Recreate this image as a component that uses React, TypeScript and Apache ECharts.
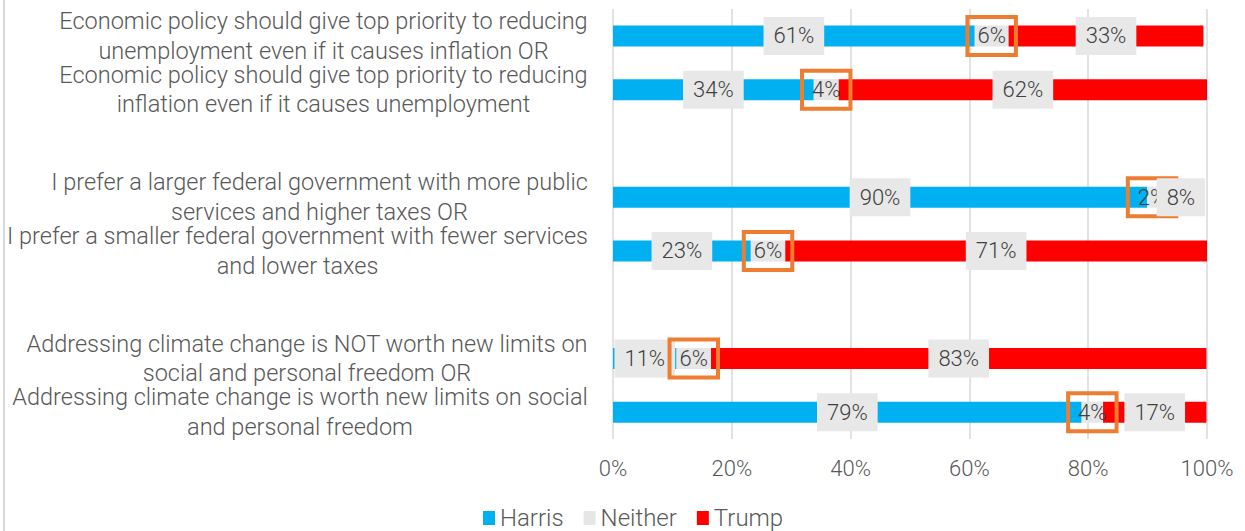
import React, { useEffect, useRef } from 'react';
import * as echarts from 'echarts';

const categories: string[] = [
  'Economic policy should give top priority to reducing\nunemployment even if it causes inflation OR',
  'Economic policy should give top priority to reducing\ninflation even if it causes unemployment',
  '',
  'I prefer a larger federal government with more public\nservices and higher taxes OR',
  'I prefer a smaller federal government with fewer services\nand lower taxes',
  '',
  'Addressing climate change is NOT worth new limits on\nsocial and personal freedom OR',
  'Addressing climate change is worth new limits on social\nand personal freedom',
];
const seriesNames = ['Harris', 'Neither', 'Trump'];
const harris = [60.9, 33.8, null, 89.9, 23.2, null, 10.7, 78.9];
const neither = [5.7, 4.2, null, 1.7, 5.8, null, 5.8, 3.6];
const trump = [32.8, 62.0, null, 8.0, 71.0, null, 83.4, 17.4];

const FONT = 'Roboto, sans-serif';
const FS = 22;
const CAT_FS = 23.5;
const FW = 300;
const TEXT = '#595959';

function measure(s: string): number {
  const c = document.createElement('canvas').getContext('2d');
  if (!c) return s.length * 10;
  c.font = `${FW} ${CAT_FS}px Roboto`;
  return c.measureText(s).width;
}

export default function App() {
  const ref = useRef<HTMLDivElement>(null);
  useEffect(() => {
    if (!ref.current) return;
    const chart = echarts.init(ref.current, null, { renderer: 'svg' });
    const rich: Record<string, any> = {};
    categories.forEach((c, i) => {
      const w = Math.max(0, ...c.split('\n').map(measure));
      rich['c' + i] = {
        width: Math.ceil(w) + 2,
        align: 'center',
        fontSize: CAT_FS,
        fontWeight: FW,
        lineHeight: 29.5,
        color: TEXT,
        fontFamily: FONT,
      };
    });
    const boxLabel = {
      show: true,
      position: 'inside',
      formatter: (p: any) => Math.round(p.value) + '%',
      fontSize: FS,
      fontWeight: FW,
      lineHeight: 22,
      fontFamily: FONT,
      color: '#404040',
      backgroundColor: '#E8E8E8',
      padding: [8, 10],
    };
    chart.setOption({
      animation: false,
      backgroundColor: '#FFFFFF',
      textStyle: { fontFamily: FONT },
      grid: { left: 613, right: 38, top: 9, bottom: 92 },
      xAxis: {
        type: 'value',
        min: 0,
        max: 100,
        interval: 20,
        axisLine: { show: false },
        axisTick: { show: false },
        splitLine: { show: true, lineStyle: { color: '#D9D9D9', width: 1.5 } },
        axisLabel: { formatter: '{value}%', fontSize: FS, fontWeight: FW, color: TEXT, margin: 18, fontFamily: FONT },
      },
      yAxis: {
        type: 'category',
        inverse: true,
        data: categories,
        axisLine: { show: false },
        axisTick: { show: false },
        axisLabel: {
          margin: 24,
          align: 'right',
          formatter: (v: string, i: number) =>
            v ? v.split('\n').map((l) => `{c${i}|${l}}`).join('\n') : '',
          rich,
        },
      },
      legend: {
        data: seriesNames,
        left: 478,
        top: 501,
        icon: 'rect',
        itemWidth: 12,
        itemHeight: 14,
        itemGap: 20,
        textStyle: { fontSize: 24, fontWeight: FW, color: TEXT, fontFamily: FONT },
      },
      graphic: [
        {
          type: 'line',
          shape: { x1: 4, y1: 0, x2: 4, y2: 531 },
          style: { stroke: '#D9D9D9', lineWidth: 2 },
        },
      ],
      series: [
        {
          name: 'Harris', type: 'bar', stack: 'total', barWidth: 21, data: harris,
          itemStyle: { color: '#00B0F0' }, label: boxLabel,
        },
        {
          name: 'Neither', type: 'bar', stack: 'total', barWidth: 21, data: neither,
          itemStyle: { color: '#E7E6E6' },
          label: { ...boxLabel, backgroundColor: 'transparent', borderColor: '#ED7D31', borderWidth: 2 },
        },
        {
          name: 'Trump', type: 'bar', stack: 'total', barWidth: 21, data: trump,
          itemStyle: { color: '#FF0000' }, label: boxLabel,
        },
      ],
    });
    return () => chart.dispose();
  }, []);
  return (
    <div
      ref={ref}
      style={{ position: 'absolute', left: 0, top: 0, width: 1245, height: 531 }}
    />
  );
}
